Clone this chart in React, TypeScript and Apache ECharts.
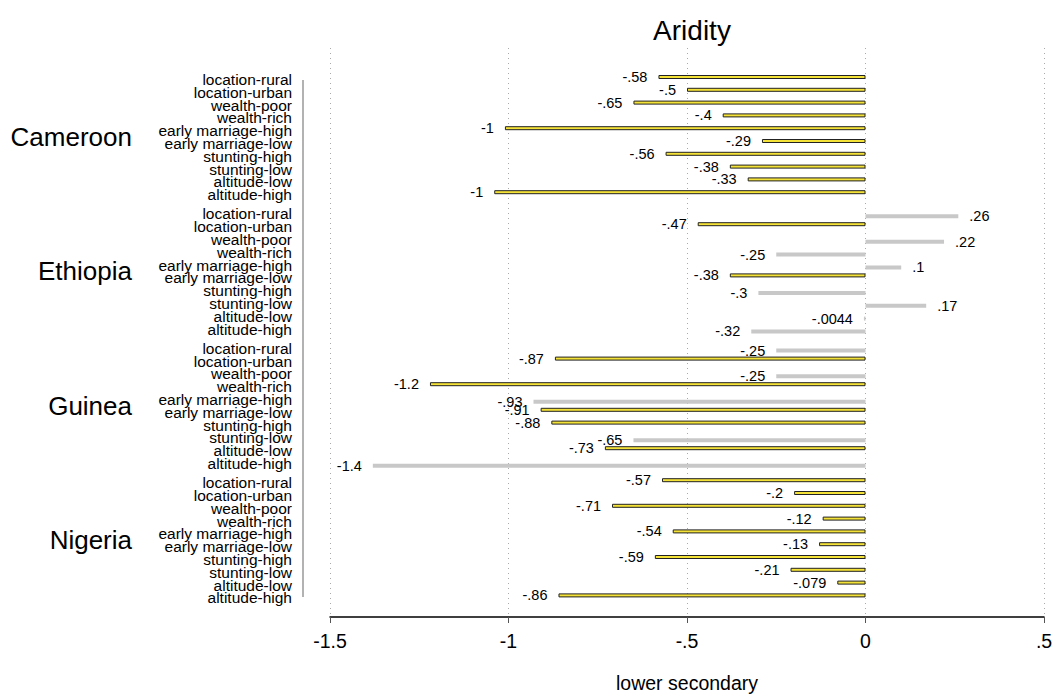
import React, { useEffect, useRef } from "react";
import * as echarts from "echarts";

const categories = [
  "location-rural",
  "location-urban",
  "wealth-poor",
  "wealth-rich",
  "early marriage-high",
  "early marriage-low",
  "stunting-high",
  "stunting-low",
  "altitude-low",
  "altitude-high",
];
const countries = ["Cameroon", "Ethiopia", "Guinea", "Nigeria"];

const cameroonValues = [-0.58, -0.5, -0.65, -0.4, -1.01, -0.29, -0.56, -0.38, -0.33, -1.04];
const cameroonSig = [1, 1, 1, 1, 1, 1, 1, 1, 1, 1];
const ethiopiaValues = [0.26, -0.47, 0.22, -0.25, 0.1, -0.38, -0.3, 0.17, -0.0044, -0.32];
const ethiopiaSig = [0, 1, 0, 0, 0, 1, 0, 0, 0, 0];
const guineaValues = [-0.25, -0.87, -0.25, -1.22, -0.93, -0.91, -0.88, -0.65, -0.73, -1.38];
const guineaSig = [0, 1, 0, 1, 0, 1, 1, 0, 1, 0];
const nigeriaValues = [-0.57, -0.2, -0.71, -0.12, -0.54, -0.13, -0.59, -0.21, -0.079, -0.86];
const nigeriaSig = [1, 1, 1, 1, 1, 1, 1, 1, 1, 1];

const xTicks = { min: -1.5, max: 0.5, interval: 0.5 };

const valuesByCountry = [cameroonValues, ethiopiaValues, guineaValues, nigeriaValues];
const sigByCountry = [cameroonSig, ethiopiaSig, guineaSig, nigeriaSig];

const FONT = "'Liberation Sans', Arial, Helvetica, sans-serif";

function fmt(v: number): string {
  let s = Number(v.toPrecision(2)).toString();
  s = s.replace(/^(-?)0\./, "$1.");
  return s;
}

export default function App() {
  const ref = useRef<HTMLDivElement>(null);
  useEffect(() => {
    if (!ref.current) return;
    const chart = echarts.init(ref.current, undefined, { renderer: "svg" });

    const gridTops = [73, 207.4, 341.8, 476.2];
    const gridH = 128;
    const left = 330;
    const right = 12;

    const grids: any[] = gridTops.map((t) => ({ left, right, top: t, height: gridH }));
    grids.push({ left, right, top: 48, bottom: 71 });

    const xAxes: any[] = countries.map((_, i) => ({
      type: "value",
      gridIndex: i,
      min: xTicks.min,
      max: xTicks.max,
      interval: xTicks.interval,
      show: false,
    }));
    xAxes.push({
      type: "value",
      gridIndex: 4,
      min: xTicks.min,
      max: xTicks.max,
      interval: xTicks.interval,
      position: "bottom",
      axisLine: { show: true, onZero: false, lineStyle: { color: "#000", width: 1.5 } },
      axisTick: { show: true, length: 6, lineStyle: { color: "#555", width: 1 } },
      axisLabel: {
        formatter: (v: number) => fmt(v),
        fontSize: 19.5,
        color: "#000",
        fontFamily: FONT,
        margin: 14,
      },
      splitLine: { show: true, lineStyle: { type: [1, 4], color: "#aaa", width: 1 } },
      name: "lower secondary",
      nameLocation: "middle",
      nameGap: 56,
      nameTextStyle: { fontSize: 19.5, color: "#000", fontFamily: FONT },
    });

    const yAxes: any[] = countries.map((c, i) => ({
      type: "category",
      gridIndex: i,
      data: categories,
      inverse: true,
      offset: 27,
      axisLine: { show: false },
      axisTick: { show: false },
      axisLabel: {
        interval: 0,
        hideOverlap: false,
        fontSize: 15.5,
        color: "#000",
        fontFamily: FONT,
        margin: 11,
      },
      name: c,
      nameLocation: "middle",
      nameRotate: 0,
      nameGap: 171,
      nameTextStyle: {
        fontSize: 26,
        color: "#000",
        fontFamily: FONT,
        align: "right",
        verticalAlign: "middle",
      },
    }));
    yAxes.push({ type: "value", gridIndex: 4, show: false, min: 0, max: 1 });

    const labelFor = (v: number) => ({
      show: true,
      position: v < 0 ? "left" : "right",
      distance: 11,
      formatter: () => fmt(v),
      fontSize: 14.5,
      color: "#000",
      fontFamily: FONT,
    });

    const series: any[] = [];
    countries.forEach((c, i) => {
      const vals = valuesByCountry[i];
      const sig = sigByCountry[i];
      series.push({
        type: "bar",
        name: c + " significant",
        xAxisIndex: i,
        yAxisIndex: i,
        barWidth: 4,
        barGap: "20%",
        itemStyle: { color: "#f4e238", borderColor: "#222", borderWidth: 1 },
        data: vals.map((v, k) => (sig[k] ? { value: v, label: labelFor(v) } : "-")),
      });
      series.push({
        type: "bar",
        name: c + " not significant",
        xAxisIndex: i,
        yAxisIndex: i,
        barWidth: 4,
        barGap: "20%",
        itemStyle: { color: "#c8c8c8" },
        data: vals.map((v, k) => (!sig[k] ? { value: v, label: labelFor(v) } : "-")),
      });
    });

    chart.setOption({
      animation: false,
      backgroundColor: "#fff",
      title: {
        text: "Aridity",
        left: 687,
        top: 11,
        textAlign: "center",
        textStyle: { fontSize: 28, fontWeight: "normal", color: "#000", fontFamily: FONT },
      },
      grid: grids,
      xAxis: xAxes,
      yAxis: yAxes,
      series,
      graphic: [
        {
          type: "line",
          shape: { x1: 303, y1: 80, x2: 303, y2: 597 },
          style: { stroke: "#999", lineWidth: 1.5 },
          silent: true,
        },
      ],
    });
    return () => chart.dispose();
  }, []);
  return (
    <div
      ref={ref}
      style={{ position: "fixed", left: 0, top: 0, width: 1056, height: 698, background: "#fff" }}
    />
  );
}
